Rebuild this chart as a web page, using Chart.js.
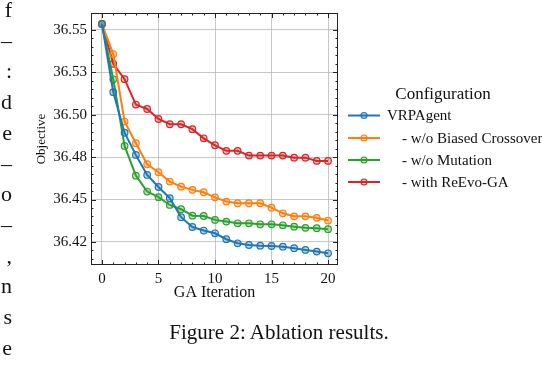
<!DOCTYPE html>
<html>
<head>
<meta charset="utf-8">
<script src="https://cdn.jsdelivr.net/npm/chart.js@4.4.0/dist/chart.umd.min.js"></script>
<style>
body { margin: 0; background: #fff; width: 542px; height: 368px; overflow: hidden; position: relative; }
#wrap { position: absolute; left: 0; top: 0; width: 542px; height: 368px; }
#margin { position: absolute; left: -40px; top: -5px; width: 52px; text-align: right; font-family: "Liberation Serif", serif; font-size: 22px; line-height: 30.7px; color: #111; }
#caption { position: absolute; left: 0; width: 558px; top: 320px; text-align: center; font-family: "Liberation Serif", serif; font-size: 21px; color: #111; }
</style>
</head>
<body>
<div id="wrap"><canvas id="mycanvas" width="542" height="368"></canvas></div>
<div id="margin">f<br>–<br>:<br>d<br>e<br>–<br>o<br>–<br>,<br>n<br>s<br>e</div>
<div id="caption">Figure 2: Ablation results.</div>
<script>
var iterations = [0,1,2,3,4,5,6,7,8,9,10,11,12,13,14,15,16,17,18,19,20];

var vrpAgent = [36.5535,36.5133,36.4894,36.4763,36.4645,36.4574,36.4508,36.4396,36.4338,36.4317,36.4301,
                36.4266,36.4242,36.4232,36.4228,36.4226,36.4222,36.4213,36.4203,36.4193,36.4183];
var noBiasedCrossover = [36.5535,36.5358,36.4960,36.4832,36.4708,36.4661,36.4606,36.4576,36.4557,36.4543,36.4513,
                36.4488,36.4478,36.4478,36.4478,36.4452,36.4419,36.4401,36.4401,36.4392,36.4376];
var noMutation = [36.5535,36.5209,36.4816,36.4641,36.4547,36.4514,36.4468,36.4443,36.4405,36.4403,36.4380,
                36.4370,36.4360,36.4360,36.4354,36.4354,36.4348,36.4340,36.4333,36.4331,36.4325];
var withReEvo = [36.5535,36.5300,36.5210,36.5060,36.5034,36.4975,36.4944,36.4944,36.4915,36.4861,36.4820,
                36.4787,36.4787,36.4759,36.4759,36.4759,36.4759,36.4747,36.4747,36.4728,36.4728];

var seriesLabels = ['VRPAgent', '    - w/o Biased Crossover', '    - w/o Mutation', '    - with ReEvo-GA'];
var seriesColors = ['#1f77b4', '#ff7f0e', '#2ca02c', '#d62728'];
var seriesFill = ['rgba(31,119,180,0.3)', 'rgba(255,127,14,0.3)', 'rgba(44,160,44,0.3)', 'rgba(214,39,40,0.3)'];

var xTicks = [0, 5, 10, 15, 20];
var yTicks = [36.425, 36.45, 36.475, 36.5, 36.525, 36.55];
var yTickLabels = ['36.42', '36.45', '36.48', '36.50', '36.53', '36.55'];

var serif = '"Liberation Serif", "Times New Roman", serif';

function toPoints(vals) {
    var pts = [];
    for (var i in vals) {
        pts.push({x: iterations[i], y: vals[i]});
    }
    return pts;
}

var allSeries = [vrpAgent, noBiasedCrossover, noMutation, withReEvo];
var datasets = [];
for (var i = 0; i < allSeries.length; i++) {
    datasets.push({
        label: seriesLabels[i],
        data: toPoints(allSeries[i]),
        borderColor: seriesColors[i],
        backgroundColor: seriesFill[i],
        pointBorderColor: seriesColors[i],
        pointBackgroundColor: seriesFill[i],
        borderWidth: 2,
        pointRadius: 3.3,
        pointBorderWidth: 1.2,
        tension: 0
    });
}

// frame, inward ticks (major + minor) like matplotlib
var framePlugin = {
    id: 'frame',
    afterDraw: function (chart) {
        var ctx = chart.ctx;
        var a = chart.chartArea;
        var xs = chart.scales.x, ys = chart.scales.y;
        ctx.save();
        ctx.strokeStyle = '#222';
        ctx.lineWidth = 1;
        ctx.strokeRect(a.left + 0.5, a.top + 0.5, a.right - a.left - 1, a.bottom - a.top - 1);
        ctx.beginPath();
        for (var v = 0; v <= 20; v++) {
            var px = Math.round(xs.getPixelForValue(v)) + 0.5;
            var len = (v % 5 === 0) ? 5 : 2.5;
            ctx.moveTo(px, a.bottom); ctx.lineTo(px, a.bottom - len);
            ctx.moveTo(px, a.top); ctx.lineTo(px, a.top + len);
        }
        for (var k = 0; k <= 27; k++) {
            var val = 36.415 + k * 0.005;
            var py = ys.getPixelForValue(val);
            if (py < a.top || py > a.bottom) continue;
            py = Math.round(py) + 0.5;
            var major = (k % 5 === 2);
            var l2 = major ? 5 : 2.5;
            ctx.moveTo(a.left, py); ctx.lineTo(a.left + l2, py);
            ctx.moveTo(a.right, py); ctx.lineTo(a.right - l2, py);
        }
        ctx.stroke();
        ctx.restore();
    }
};

// legend box on the right, title + entries
var legendPlugin = {
    id: 'sideLegend',
    afterDraw: function (chart) {
        var ctx = chart.ctx;
        ctx.save();
        ctx.fillStyle = '#111';
        ctx.font = '17px ' + serif;
        ctx.textAlign = 'center';
        ctx.textBaseline = 'middle';
        ctx.fillText('Configuration', 443, 95);
        ctx.font = '15px ' + serif;
        ctx.textAlign = 'left';
        var rows = [115.5, 138, 160, 182];
        for (var i = 0; i < chart.data.datasets.length; i++) {
            var ds = chart.data.datasets[i];
            var y = rows[i];
            ctx.strokeStyle = ds.borderColor;
            ctx.lineWidth = 2;
            ctx.beginPath();
            ctx.moveTo(348, y); ctx.lineTo(380, y);
            ctx.stroke();
            ctx.beginPath();
            ctx.arc(364, y, 3, 0, Math.PI * 2);
            ctx.fillStyle = ds.backgroundColor;
            ctx.fill();
            ctx.lineWidth = 1.2;
            ctx.stroke();
            ctx.fillStyle = '#111';
            ctx.fillText(ds.label, 387, y + 1);
        }
        ctx.restore();
    }
};

var ctx = document.getElementById('mycanvas');

var lineGraph = new Chart(ctx, {
    type: 'line',
    data: { datasets: datasets },
    options: {
        responsive: false,
        animation: false,
        layout: { padding: { left: 0, right: 204, top: 13, bottom: 0 } },
        plugins: { legend: { display: false }, tooltip: { enabled: false } },
        scales: {
            x: {
                type: 'linear',
                min: -0.97,
                max: 20.88,
                afterBuildTicks: function (s) { s.ticks = xTicks.map(function (v) { return {value: v}; }); },
                afterFit: function (s) { s.height = 103; },
                grid: { color: 'rgba(176,176,176,0.7)', lineWidth: 1, drawTicks: false },
                border: { display: false },
                ticks: { color: '#111', font: { family: serif, size: 15 }, padding: 5 },
                title: { display: true, text: 'GA Iteration', color: '#111', font: { family: serif, size: 16 }, padding: { top: 0, bottom: 66 } }
            },
            y: {
                min: 36.4114,
                max: 36.5600,
                afterBuildTicks: function (s) { s.ticks = yTicks.map(function (v) { return {value: v}; }); },
                afterFit: function (s) { s.width = 91; },
                grid: { color: 'rgba(176,176,176,0.7)', lineWidth: 1, drawTicks: false },
                border: { display: false },
                ticks: {
                    color: '#111',
                    font: { family: serif, size: 15 },
                    padding: 4,
                    callback: function (v) { return yTickLabels[yTicks.indexOf(v)]; }
                },
                title: { display: true, text: 'Objective', color: '#111', font: { family: serif, size: 13 }, padding: { top: 34, bottom: 0 } }
            }
        }
    },
    plugins: [framePlugin, legendPlugin]
});
</script>
</body>
</html>
